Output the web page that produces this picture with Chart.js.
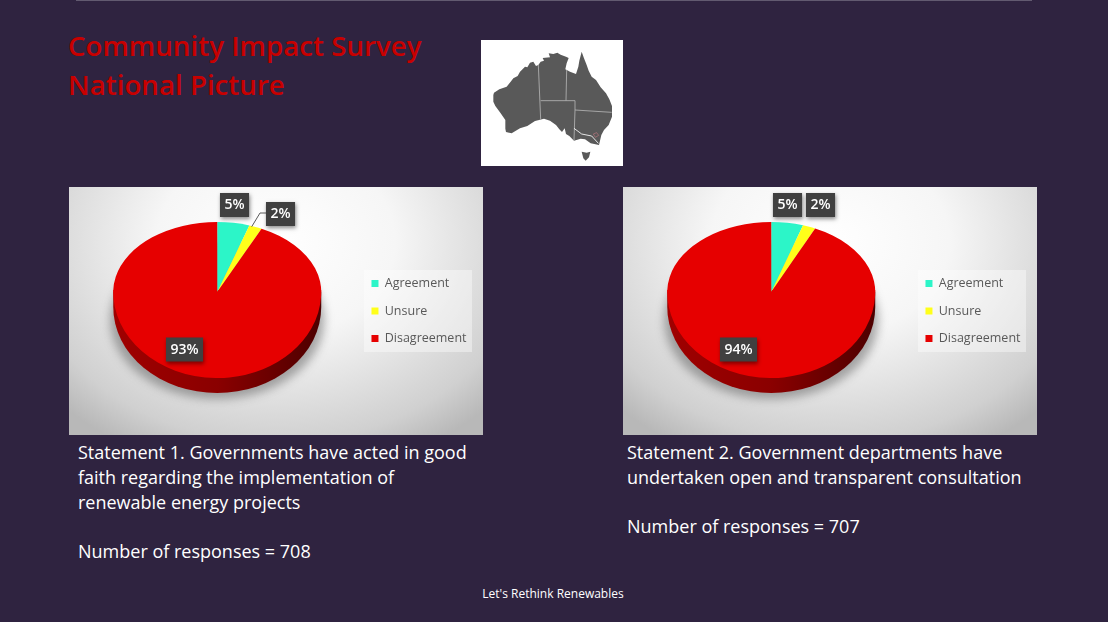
<!DOCTYPE html>
<html>
<head>
<meta charset="utf-8">
<script src="https://cdn.jsdelivr.net/npm/chart.js@4"></script>
<style>
  html, body { margin: 0; padding: 0; width: 1108px; height: 622px; overflow: hidden; background: #2f2340; font-family: "Open Sans", sans-serif; }
  .topline { position: absolute; left: 76px; top: 0; width: 956px; height: 1px; background: #625a70; }
  .title { position: absolute; left: 68px; top: 26px; color: #c80000; font-size: 27.7px; font-weight: 600; line-height: 39px; white-space: nowrap; }
  .map { position: absolute; left: 481px; top: 40px; width: 142px; height: 126px; background: #fff; overflow: hidden; }
  .panel { position: absolute; top: 187px; width: 414px; height: 248px;
    background: radial-gradient(ellipse 72% 95% at 50% 22%, #ffffff 0%, #f6f6f6 40%, #d0d0d0 85%, #b8b8b8 100%); }
  .panel canvas { display: block; }
  .note { position: absolute; top: 440px; color: #fff; font-size: 18px; line-height: 24.8px; white-space: nowrap; }
  .footer { position: absolute; left: -1px; width: 1108px; top: 585px; text-align: center; color: #fff; font-size: 12px; }
</style>
</head>
<body>
<div class="topline"></div>
<div class="title">Community Impact Survey<br>National Picture</div>

<div class="map">
  <svg width="142" height="126" viewBox="33 30 426 378">
    <path fill="#595959" d="M70 195 L72 188 L88 178 L110 170 L122 155 L130 145 L143 138 L150 125 L165 110 L172 112 L180 98 L190 95 L198 108 L205 105 L212 95 L222 92 L218 84 L240 82 L236 70 L250 72 L262 68 L272 74 L288 80 L296 84 L290 100 L286 118 L300 125 L318 132 L325 110 L328 92 L335 65 L342 85 L350 105 L356 122 L365 140 L378 150 L392 172 L408 190 L418 208 L426 228 L426 260 L416 285 L402 300 L394 315 L387 345 L362 340 L345 328 L332 326 L312 332 L298 318 L288 312 L284 295 L276 306 L268 298 L258 285 L240 272 L222 266 L195 273 L172 288 L150 295 L125 310 L108 306 L106 296 L106 270 L92 250 L76 228 L70 215 Z"/>
    <path fill="#595959" d="M335 365 L350 368 L361 365 L357 382 L347 392 L340 385 Z"/>
    <path fill="none" stroke="#b5b5b5" stroke-width="2.5" d="M205 105 L212 268 M212 212 L315 212 M290 120 L288 212 M315 212 L315 240 L425 247 M315 240 L312 330"/>
    <path fill="none" stroke="#ffffff" stroke-width="2.5" d="M312 295 L335 312 L365 318 L385 340"/>
    <path fill="none" stroke="#d9808a" stroke-width="1.5" d="M370 312 L380 308 L386 316 L376 322 Z"/>
  </svg>
</div>

<div class="panel" style="left:69px"><canvas id="chart1" width="414" height="248"></canvas></div>
<div class="panel" style="left:623px"><canvas id="chart2" width="414" height="248"></canvas></div>

<div class="note" style="left:78px">Statement 1. Governments have acted in good<br>faith regarding the implementation of<br>renewable energy projects<br><br>Number of responses = 708</div>
<div class="note" style="left:627px">Statement 2. Government departments have<br>undertaken open and transparent consultation<br><br>Number of responses = 707</div>
<div class="footer">Let's Rethink Renewables</div>

<script>
const categorias = ['Agreement', 'Unsure', 'Disagreement'];
const valoresS1 = [5, 2, 93];
const valoresS2 = [5, 2, 94];
const colores = ['#2cf5c8', '#ffff1a', '#e60000'];

// label box centres, relative to the panel
const etiquetasS1 = [[165.5, 18], [211.5, 27], [115.5, 162.5]];
const etiquetasS2 = [[164.5, 18], [197.5, 18], [115.5, 162.5]];

// the pie leans back: flatter above the apex than below it
const APLANADO_ARRIBA = 70 / 104;
const APLANADO_ABAJO = 86 / 104;
const GROSOR = 15;

function dibujarPie(chart, meta) {
    const ctx = chart.ctx;
    const { x, y, outerRadius: r } = meta.data[0];
    const abajo = r * APLANADO_ABAJO;

    // soft shadow, only shows below and beside the pie
    ctx.save();
    ctx.filter = 'blur(5px)';
    ctx.fillStyle = 'rgba(90,90,90,0.5)';
    ctx.beginPath();
    ctx.ellipse(x, y + 28, r + 3, abajo - 7, 0, 0, Math.PI * 2);
    ctx.fill();
    ctx.restore();

    // side wall
    const pared = ctx.createLinearGradient(x - r, 0, x + r, 0);
    pared.addColorStop(0, '#a00000');
    pared.addColorStop(0.5, '#8a0000');
    pared.addColorStop(1, '#4d0000');
    ctx.fillStyle = pared;
    ctx.beginPath();
    ctx.ellipse(x, y + GROSOR, r, abajo, 0, 0, Math.PI);
    ctx.lineTo(x - r, y);
    ctx.lineTo(x + r, y);
    ctx.closePath();
    ctx.fill();

    // the top face, drawn by the arc elements in two halves
    [[-r, r, APLANADO_ARRIBA], [0, r, APLANADO_ABAJO]].forEach(([desde, alto, k]) => {
        ctx.save();
        ctx.beginPath();
        ctx.rect(x - r - 2, y + desde * k - 2, 2 * r + 4, alto * k + 2);
        ctx.clip();
        ctx.translate(x, y);
        ctx.scale(1, k);
        ctx.translate(-x, -y);
        meta.data.forEach(arco => arco.draw(ctx, chart.chartArea));
        ctx.restore();
    });
}

function dibujarEtiquetas(chart, posiciones) {
    const ctx = chart.ctx;
    const valores = chart.data.datasets[0].data;
    ctx.font = '600 14px "Open Sans", sans-serif';
    ctx.textAlign = 'center';
    ctx.textBaseline = 'middle';
    valores.forEach((v, i) => {
        const [cx, cy] = posiciones[i];
        const ancho = ctx.measureText(v + '%').width + 9;
        ctx.save();
        ctx.shadowColor = 'rgba(0,0,0,0.45)';
        ctx.shadowBlur = 4;
        ctx.shadowOffsetX = 1;
        ctx.shadowOffsetY = 2;
        ctx.fillStyle = '#404040';
        ctx.fillRect(cx - ancho / 2, cy - 12, ancho, 24);
        ctx.restore();
        ctx.fillStyle = '#fff';
        ctx.fillText(v + '%', cx, cy + 0.5);
    });
}

function crearPie(id, valores, posiciones, conGuia) {
    new Chart(document.getElementById(id), {
        type: 'pie',
        data: {
            labels: categorias,
            datasets: [{ data: valores, backgroundColor: colores, borderWidth: 0 }]
        },
        options: {
            responsive: false,
            animation: false,
            layout: { padding: { left: 9, right: 6.5, top: 1, bottom: 39 } },
            plugins: {
                tooltip: { enabled: false },
                legend: {
                    position: 'right',
                    labels: {
                        boxWidth: 7,
                        boxHeight: 7,
                        padding: 15,
                        color: '#595959',
                        font: { family: '"Open Sans", sans-serif', size: 12.5 }
                    }
                }
            }
        },
        plugins: [{
            id: 'pie3d',
            afterLayout(chart) {
                // legend sits centred on the panel, not on the pie
                chart.legend.top += 19;
                chart.legend.bottom += 19;
            },
            beforeDraw(chart) {
                chart.ctx.fillStyle = 'rgba(255,255,255,0.4)';
                chart.ctx.fillRect(295, 83, 108, 82);
            },
            beforeDatasetsDraw(chart) {
                dibujarPie(chart, chart.getDatasetMeta(0));
                return false;
            },
            afterDraw(chart) {
                if (conGuia) {
                    const ctx = chart.ctx;
                    ctx.strokeStyle = '#595959';
                    ctx.lineWidth = 1;
                    ctx.beginPath();
                    ctx.moveTo(182.7, 39.7);
                    ctx.lineTo(191, 26);
                    ctx.lineTo(197, 26);
                    ctx.stroke();
                }
                dibujarEtiquetas(chart, posiciones);
            }
        }]
    });
}

crearPie('chart1', valoresS1, etiquetasS1, true);
crearPie('chart2', valoresS2, etiquetasS2, false);
</script>
</body>
</html>
